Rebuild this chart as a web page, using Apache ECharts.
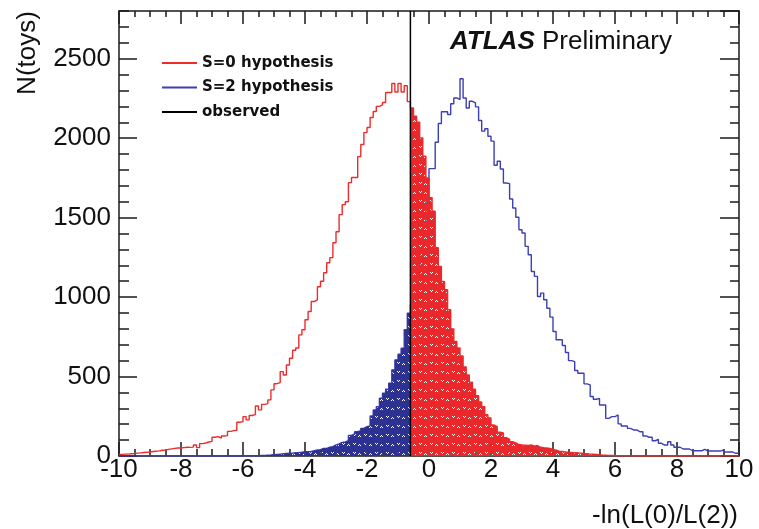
<!DOCTYPE html>
<html><head><meta charset="utf-8">
<script src="https://cdn.jsdelivr.net/npm/echarts@6/dist/echarts.min.js"></script>
<style>html,body{margin:0;padding:0;background:#fff}#c{width:759px;height:529px}</style>
</head><body><div id="c"></div>
<script>
// ---- data ----
const X_MIN = -10, X_MAX = 10, BIN_WIDTH = 0.1;
const Y_MIN = 0, Y_MAX = 2800;
const X_TICK_STEP = 2, X_MINOR_SPLIT = 4;
const Y_TICK_STEP = 500, Y_MINOR_STEP = 100;
const OBSERVED = -0.6;
const SERIES_NAMES = ['S=0 hypothesis', 'S=2 hypothesis', 'observed'];
const X_TITLE = '-ln(L(0)/L(2))';
const Y_TITLE = 'N(toys)';

// S=0 hypothesis, 200 bins of width 0.1 from -10 to 10
const S0_COUNTS = [
  10, 12, 12, 14, 15, 18, 20, 22, 24, 25,
  28, 30, 32, 36, 38, 42, 45, 48, 50, 50,
  53, 55, 54, 56, 69, 53, 78, 82, 88, 92,
  118, 122, 113, 126, 128, 155, 160, 162, 212, 216,
  248, 227, 255, 260, 315, 290, 325, 330, 353, 416,
  455, 462, 531, 510, 573, 615, 665, 680, 762, 794,
  857, 909, 972, 983, 1065, 1100, 1153, 1216, 1248, 1342,
  1411, 1519, 1582, 1600, 1720, 1752, 1752, 1884, 1960, 2035,
  2067, 2130, 2168, 2200, 2210, 2224, 2287, 2287, 2344, 2290,
  2344, 2290, 2330, 2230, 2190, 2138, 2100, 2002, 1886, 1750,
  1626, 1540, 1310, 1193, 1098, 1046, 920, 800, 720, 680,
  630, 560, 510, 465, 420, 380, 340, 310, 260, 240,
  195, 185, 150, 145, 115, 105, 90, 82, 72, 70,
  68, 66, 70, 62, 66, 55, 52, 50, 48, 42,
  36, 30, 28, 25, 22, 22, 20, 20, 18, 16,
  15, 12, 12, 10, 8, 5, 5, 4, 3, 2,
  2, 1, 2, 1, 1, 1, 0, 1, 0, 1,
  0, 0, 0, 0, 0, 0, 0, 0, 0, 0,
  0, 0, 0, 0, 0, 0, 0, 0, 0, 0,
  0, 0, 0, 0, 0, 0, 0, 0, 0, 0
];
// S=2 hypothesis
const S2_COUNTS = [
  0, 0, 0, 0, 0, 0, 0, 0, 0, 0,
  0, 0, 0, 0, 0, 0, 0, 0, 0, 0,
  0, 0, 0, 0, 0, 0, 0, 0, 0, 0,
  0, 0, 0, 0, 0, 1, 0, 0, 1, 0,
  1, 1, 2, 2, 2, 3, 3, 5, 6, 8,
  10, 12, 14, 16, 17, 18, 21, 21, 24, 27,
  27, 28, 33, 38, 40, 48, 48, 55, 59, 70,
  76, 86, 88, 96, 130, 139, 153, 160, 174, 185,
  190, 252, 290, 310, 363, 395, 420, 458, 542, 605,
  640, 678, 794, 899, 950, 1020, 1150, 1300, 1450, 1600,
  1808, 1808, 1974, 2092, 2166, 2166, 2149, 2216, 2253, 2243,
  2374, 2253, 2190, 2232, 2222, 2197, 2111, 2044, 2059, 2012,
  1981, 1829, 1855, 1806, 1718, 1714, 1617, 1560, 1502, 1424,
  1403, 1319, 1266, 1161, 1130, 1004, 1025, 983, 930, 874,
  783, 731, 731, 695, 651, 600, 594, 538, 521, 521,
  454, 447, 374, 357, 363, 321, 321, 237, 248, 248,
  258, 202, 189, 189, 174, 164, 164, 153, 153, 126,
  118, 118, 96, 105, 80, 69, 69, 90, 69, 55,
  55, 44, 44, 44, 33, 33, 33, 33, 42, 31,
  31, 31, 31, 31, 38, 25, 25, 25, 17, 17
];

// ---- styles ----
const RED_LINE = '#ee2b2b', RED_FILL = '#e8282a';
const BLUE_LINE = '#3d3fb4', BLUE_FILL = '#2d3192';
const INK = '#1a1a1a';
const FONT = 'Liberation Sans';

function edge(i) { return Math.round((X_MIN + i * BIN_WIDTH) * 1000) / 1000; }
function steps(counts, from, to) {
  const pts = [];
  for (let i = from; i < to; i++) pts.push([edge(i), counts[i]]);
  pts.push([edge(to), counts[to - 1]]);
  return pts;
}
const nBins = S0_COUNTS.length;
const obsBin = Math.round((OBSERVED - X_MIN) / BIN_WIDTH);

function hatch(bg) {
  const c = document.createElement('canvas');
  c.width = 11; c.height = 9;
  const g = c.getContext('2d');
  g.fillStyle = bg; g.fillRect(0, 0, 11, 9);
  [[1, 2], [3, 2], [2, 3], [7, 3], [6, 4], [8, 4]].forEach(p => g.clearRect(p[0], p[1], 1, 1));
  return c;
}

const tickLine = { color: INK, width: 1.5 };
function xAxis(pos, major, minor, labels) {
  return {
    type: 'value', position: pos, min: X_MIN, max: X_MAX, interval: X_TICK_STEP,
    axisLine: { show: true, onZero: false, lineStyle: { color: INK, width: 1.5 } },
    axisTick: { show: true, inside: true, length: major, lineStyle: tickLine },
    minorTick: { show: true, splitNumber: X_MINOR_SPLIT, length: minor, lineStyle: tickLine },
    axisLabel: labels ? { show: true, fontFamily: FONT, fontSize: 26, color: '#111', margin: 1,
      formatter: v => String(v) } : { show: false },
    splitLine: { show: false }, minorSplitLine: { show: false }
  };
}
function yAxis(pos, step, len, labels, line) {
  return {
    type: 'value', position: pos, min: Y_MIN, max: Y_MAX, interval: step,
    axisLine: { show: line, onZero: false, lineStyle: { color: INK, width: 1.5 } },
    axisTick: { show: true, inside: true, length: len, lineStyle: tickLine },
    axisLabel: labels ? { show: true, fontFamily: FONT, fontSize: 26, color: '#111', margin: 8, showMaxLabel: false,
      formatter: v => String(v) } : { show: false },
    splitLine: { show: false }
  };
}

const chart = echarts.init(document.getElementById('c'), null, { renderer: 'canvas' });
chart.setOption({
  animation: false,
  backgroundColor: '#fff',
  grid: { left: 119, right: 20, top: 11, bottom: 73, containLabel: false, outerBoundsMode: 'none' },
  xAxis: [xAxis('bottom', 14, 7, true), xAxis('top', 13, 6, false)],
  yAxis: [
    yAxis('left', Y_TICK_STEP, 18, true, true),
    yAxis('left', Y_MINOR_STEP, 10, false, false),
    yAxis('right', Y_TICK_STEP, 19, false, true),
    yAxis('right', Y_MINOR_STEP, 9, false, false)
  ],
  legend: {
    data: SERIES_NAMES, orient: 'vertical', left: 157, top: 49,
    icon: 'rect', itemWidth: 35, itemHeight: 2, itemGap: 6.5, selectedMode: false,
    textStyle: { fontFamily: 'DejaVu Sans', fontWeight: 'bold', fontSize: 15, color: '#111', lineHeight: 18 }
  },
  graphic: [
    { type: 'text', left: 450, top: 29, z: 100,
      style: { text: '{a|ATLAS}{p| Preliminary}',
        rich: { a: { fontFamily: FONT, fontWeight: 'bold', fontStyle: 'italic', fontSize: 26, fill: '#111' },
                p: { fontFamily: FONT, fontSize: 26, fill: '#111' } } } },
    { type: 'text', x: 28, y: 53, rotation: Math.PI / 2, z: 100,
      style: { text: Y_TITLE, fontFamily: FONT, fontSize: 26, fill: '#111', align: 'center', verticalAlign: 'middle' } },
    { type: 'text', right: 21, top: 503, z: 100,
      style: { text: X_TITLE, fontFamily: FONT, fontSize: 26, fill: '#111' } }
  ],
  series: [
    { name: SERIES_NAMES[1], type: 'line', step: 'end', data: steps(S2_COUNTS, 0, nBins), symbol: 'none',
      lineStyle: { color: BLUE_LINE, width: 1.4 }, itemStyle: { color: BLUE_LINE }, z: 2 },
    { name: SERIES_NAMES[0], type: 'line', step: 'end', data: steps(S0_COUNTS, 0, nBins), symbol: 'none',
      lineStyle: { color: RED_LINE, width: 1.4 }, itemStyle: { color: RED_LINE }, z: 3 },
    { type: 'line', step: 'end', data: steps(S2_COUNTS, 0, obsBin), symbol: 'none',
      lineStyle: { width: 0, opacity: 0 }, areaStyle: { color: { image: hatch(BLUE_FILL), repeat: 'repeat' }, opacity: 1 }, z: 4 },
    { type: 'line', step: 'end', data: steps(S0_COUNTS, obsBin, nBins), symbol: 'none',
      lineStyle: { width: 0, opacity: 0 }, areaStyle: { color: { image: hatch(RED_FILL), repeat: 'repeat' }, opacity: 1 }, z: 5 },
    { name: SERIES_NAMES[2], type: 'line', data: [[OBSERVED, Y_MIN], [OBSERVED, Y_MAX]], symbol: 'none',
      lineStyle: { color: '#000', width: 1.5 }, itemStyle: { color: '#000' }, z: 6 }
  ]
});
</script>
</body></html>
